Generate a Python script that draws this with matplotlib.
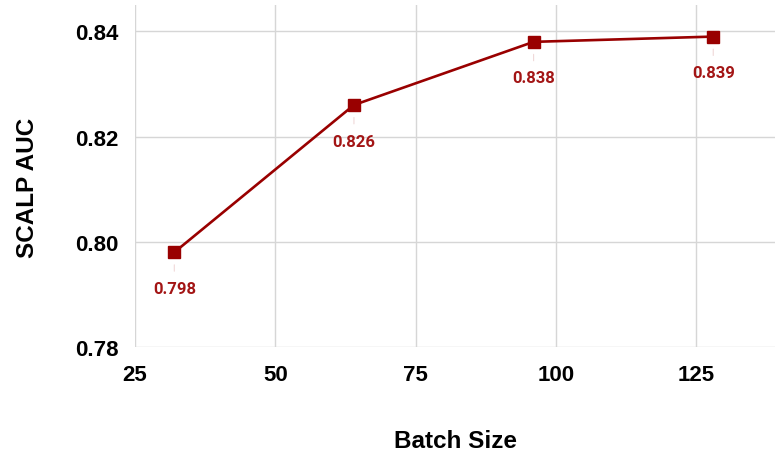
import matplotlib
matplotlib.use("Agg")
import matplotlib.pyplot as plt

batch_sizes = [32, 64, 96, 128]
auc_values = [0.798, 0.826, 0.838, 0.839]
value_labels = ["0.798", "0.826", "0.838", "0.839"]
x_ticks = [25, 50, 75, 100, 125]
y_ticks = [0.78, 0.80, 0.82, 0.84]
y_tick_labels = ["0.78", "0.80", "0.82", "0.84"]

line_color = "#990000"
text_color = "#a31515"
grid_color = "#d6d6d6"

fig = plt.figure(figsize=(7.75, 4.56), dpi=100)
ax = fig.add_axes([0.1742, 0.2368, 0.8258, 0.75])

ax.plot(batch_sizes, auc_values, color=line_color, lw=1.9, marker="s",
        markersize=8.5, markerfacecolor=line_color, markeredgecolor=line_color, zorder=3)

for x, y, lab in zip(batch_sizes, auc_values, value_labels):
    ax.annotate(lab, xy=(x, y), xytext=(0, -26), textcoords="offset points",
                ha="center", va="center", color=text_color, fontsize=12,
                fontfamily="Roboto", fontweight="bold",
                arrowprops=dict(arrowstyle="-", color="#f0d8d8", lw=0.8,
                                shrinkA=5, shrinkB=9))

ax.set_xlim(25, 139)
ax.set_ylim(0.78, 0.845)
ax.set_xticks(x_ticks)
ax.set_yticks(y_ticks)
ax.set_yticklabels(y_tick_labels)
ax.grid(True, color=grid_color, lw=1.0, zorder=0)
ax.set_axisbelow(True)
for s in ax.spines.values():
    s.set_visible(False)
ax.tick_params(length=0, pad=12, labelsize=16)
for lab in ax.get_xticklabels() + ax.get_yticklabels():
    lab.set_fontfamily("Liberation Sans")
    lab.set_fontweight("bold")

ax.set_xlabel("Batch Size", fontsize=17.5, fontweight="bold",
              fontfamily="Liberation Sans", labelpad=32)
ax.set_ylabel("SCALP AUC", fontsize=17.5, fontweight="bold",
              fontfamily="Liberation Sans")
ax.yaxis.set_label_coords(-0.150, 0.468)

fig.savefig("out.png", dpi=100)
